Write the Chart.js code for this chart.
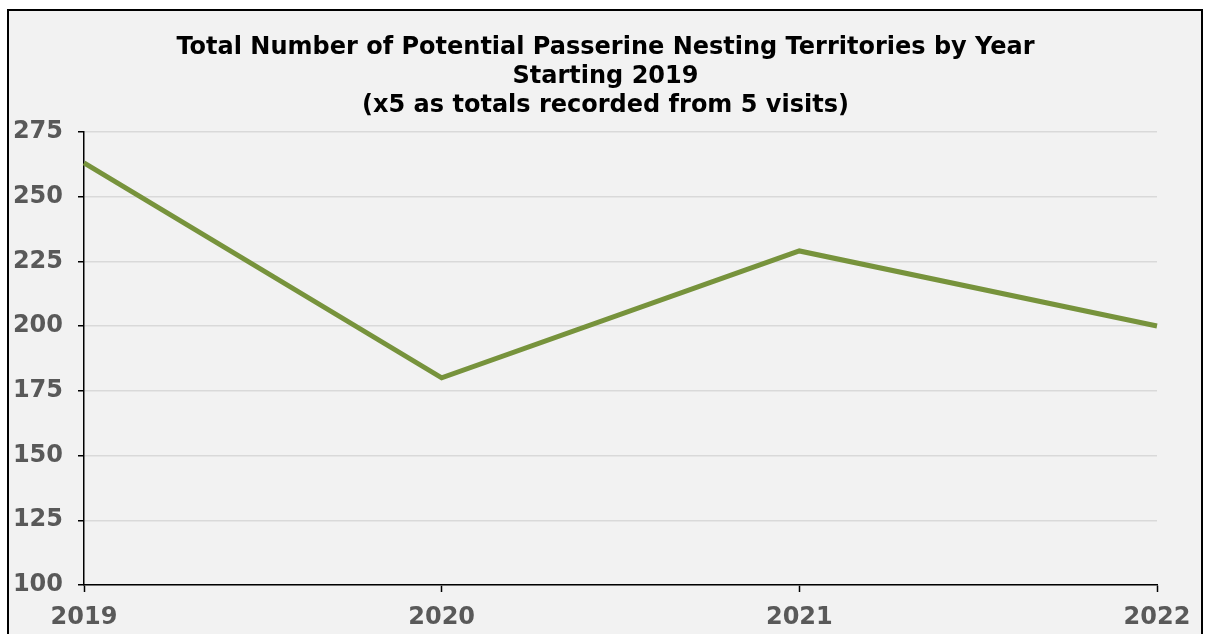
<!DOCTYPE html>
<html>
<head>
<meta charset="utf-8">
<script src="https://cdn.jsdelivr.net/npm/chart.js@4"></script>
<style>
  html, body { margin:0; padding:0; background:#ffffff; width:1209px; height:634px; overflow:hidden; }
  #frame { position:absolute; left:7px; top:9px; width:1196px; height:640px; border:2px solid #000; background:#f2f2f2; box-sizing:border-box; }
  #wrap { position:absolute; left:0; top:0; width:1209px; height:634px; }
</style>
</head>
<body>
<div id="frame"></div>
<div id="wrap"><canvas id="c" width="1209" height="634"></canvas></div>
<script>
const years = ['2019', '2020', '2021', '2022'];
const territories = [263, 180, 229, 200];
const titleLines = [
  'Total Number of Potential Passerine Nesting Territories by Year',
  'Starting 2019',
  '(x5 as totals recorded from 5 visits)'
];
const yMin = 100, yMax = 275, yStep = 25;

const FONT = '"DejaVu Sans", Verdana, sans-serif';
const PLOT = { left: 84, right: 1157, top: 132, bottom: 585 };

new Chart(document.getElementById('c'), {
  type: 'line',
  data: {
    labels: years,
    datasets: [{
      data: territories,
      borderColor: '#77933c',
      borderWidth: 5,
      pointRadius: 0,
      tension: 0,
      fill: false
    }]
  },
  options: {
    responsive: false,
    animation: false,
    layout: { padding: { left: 0, right: 1209 - PLOT.right, top: 0, bottom: 0 } },
    plugins: {
      legend: { display: false },
      tooltip: { enabled: false },
      title: {
        display: true,
        text: titleLines,
        color: '#000',
        font: { family: FONT, size: 24, weight: 'bold', lineHeight: 1.22 },
        padding: { top: 33, bottom: 11 }
      }
    },
    scales: {
      x: {
        type: 'category',
        offset: false,
        grid: { drawOnChartArea: false, tickLength: 7, tickColor: '#000', tickWidth: 1.5 },
        border: { color: '#000', width: 1.5 },
        ticks: { color: '#595959', font: { family: FONT, size: 24, weight: 'bold' }, padding: 11, maxRotation: 0, autoSkip: false },
        afterFit(s) { s.height = 634 - PLOT.bottom; }
      },
      y: {
        min: yMin, max: yMax,
        grid: { color: '#d9d9d9', lineWidth: 1.5, tickLength: 6, tickColor: '#000', tickWidth: 1.5 },
        border: { color: '#000', width: 1.5 },
        ticks: { stepSize: yStep, color: '#595959', font: { family: FONT, size: 24, weight: 'bold' }, padding: 15 },
        afterFit(s) { s.width = PLOT.left; }
      }
    }
  },
  plugins: [{
    id: 'centerTitle',
    afterLayout(chart) {
      const t = chart.titleBlock;
      if (t) { t.left = 2; t.right = 1209; t.width = 1207; }
    }
  }]
});
</script>
</body>
</html>
